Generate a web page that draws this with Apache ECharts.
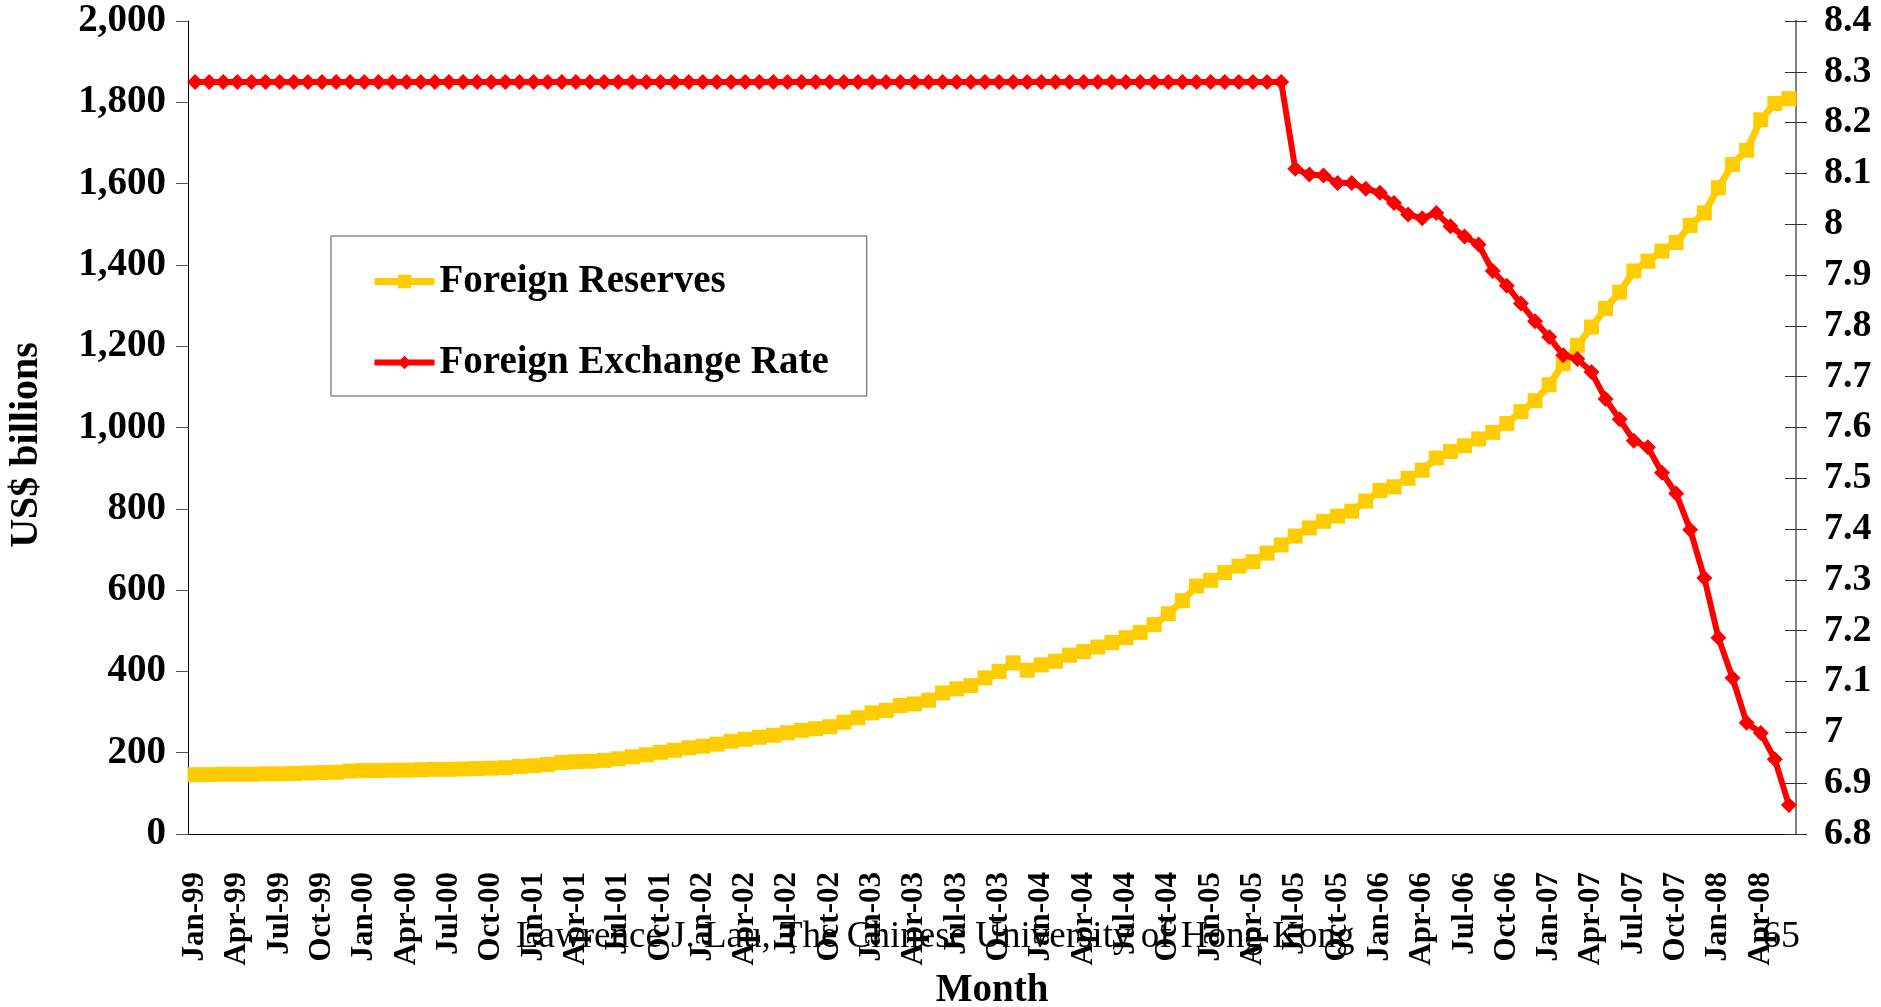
<!DOCTYPE html>
<html>
<head>
<meta charset="utf-8">
<title>Foreign Reserves and Foreign Exchange Rate</title>
<script src="https://cdn.jsdelivr.net/npm/echarts@6/dist/echarts.min.js"></script>
<style>
  html, body { margin: 0; padding: 0; background: #fff; }
  #chart { width: 1881px; height: 1007px; }
</style>
</head>
<body>
<div id="chart"></div>
<script>
// 月份（1999年1月 - 2008年6月）
const months = [
  "Jan-99","Feb-99","Mar-99","Apr-99","May-99","Jun-99","Jul-99","Aug-99","Sep-99","Oct-99","Nov-99","Dec-99",
  "Jan-00","Feb-00","Mar-00","Apr-00","May-00","Jun-00","Jul-00","Aug-00","Sep-00","Oct-00","Nov-00","Dec-00",
  "Jan-01","Feb-01","Mar-01","Apr-01","May-01","Jun-01","Jul-01","Aug-01","Sep-01","Oct-01","Nov-01","Dec-01",
  "Jan-02","Feb-02","Mar-02","Apr-02","May-02","Jun-02","Jul-02","Aug-02","Sep-02","Oct-02","Nov-02","Dec-02",
  "Jan-03","Feb-03","Mar-03","Apr-03","May-03","Jun-03","Jul-03","Aug-03","Sep-03","Oct-03","Nov-03","Dec-03",
  "Jan-04","Feb-04","Mar-04","Apr-04","May-04","Jun-04","Jul-04","Aug-04","Sep-04","Oct-04","Nov-04","Dec-04",
  "Jan-05","Feb-05","Mar-05","Apr-05","May-05","Jun-05","Jul-05","Aug-05","Sep-05","Oct-05","Nov-05","Dec-05",
  "Jan-06","Feb-06","Mar-06","Apr-06","May-06","Jun-06","Jul-06","Aug-06","Sep-06","Oct-06","Nov-06","Dec-06",
  "Jan-07","Feb-07","Mar-07","Apr-07","May-07","Jun-07","Jul-07","Aug-07","Sep-07","Oct-07","Nov-07","Dec-07",
  "Jan-08","Feb-08","Mar-08","Apr-08","May-08","Jun-08"
];

// 外汇储备 (US$ billions)
const foreignReserves = [
  146, 146, 147, 147, 147, 148, 148, 149, 150, 151, 152, 155,
  156, 156, 157, 157, 158, 159, 159, 160, 161, 162, 163, 166,
  168, 171, 176, 178, 179, 181, 185, 190, 195, 201, 206, 212,
  216, 221, 228, 233, 238, 243, 249, 255, 259, 264, 275, 286,
  298, 304, 316, 320, 329, 347, 357, 365, 384, 400, 421, 403,
  416, 425, 440, 449, 460, 471, 483, 496, 515, 542, 574, 610,
  624, 643, 659, 670, 691, 711, 733, 753, 769, 782, 794, 819,
  845, 854, 875, 895, 925, 941, 955, 972, 988, 1010, 1039, 1066,
  1105, 1157, 1202, 1247, 1293, 1333, 1385, 1409, 1434, 1455, 1497, 1528,
  1590, 1647, 1682, 1757, 1797, 1809
];

// 汇率 (RMB / US$)
const exchangeRate = [
  8.28, 8.28, 8.28, 8.28, 8.28, 8.28, 8.28, 8.28, 8.28, 8.28, 8.28, 8.28,
  8.28, 8.28, 8.28, 8.28, 8.28, 8.28, 8.28, 8.28, 8.28, 8.28, 8.28, 8.28,
  8.28, 8.28, 8.28, 8.28, 8.28, 8.28, 8.28, 8.28, 8.28, 8.28, 8.28, 8.28,
  8.28, 8.28, 8.28, 8.28, 8.28, 8.28, 8.28, 8.28, 8.28, 8.28, 8.28, 8.28,
  8.28, 8.28, 8.28, 8.28, 8.28, 8.28, 8.28, 8.28, 8.28, 8.28, 8.28, 8.28,
  8.28, 8.28, 8.28, 8.28, 8.28, 8.28, 8.28, 8.28, 8.28, 8.28, 8.28, 8.28,
  8.28, 8.28, 8.28, 8.28, 8.28, 8.28, 8.109, 8.098, 8.096, 8.081, 8.081, 8.070,
  8.062, 8.042, 8.019, 8.012, 8.022, 7.996, 7.976, 7.960, 7.908, 7.879, 7.844, 7.809,
  7.778, 7.742, 7.735, 7.709, 7.656, 7.616, 7.574, 7.561, 7.511, 7.470, 7.399, 7.304,
  7.186, 7.107, 7.019, 6.999, 6.947, 6.857
];

const seriesNames = ["Foreign Reserves", "Foreign Exchange Rate"];

const FONT = "'Liberation Serif', 'Times New Roman', serif";

const chart = echarts.init(document.getElementById("chart"));

const rightAxisBase = {
  type: "value",
  position: "right",
  min: 6.8,
  max: 8.4,
  interval: 0.1,
  splitLine: { show: false },
  axisLine: { show: true, lineStyle: { color: "#808080", width: 2 } },
};

const option = {
  animation: false,
  backgroundColor: "#fff",
  grid: { left: 188, right: 85, top: 21, bottom: 173 },
  legend: {
    data: [
      { name: seriesNames[0], lineStyle: { width: 7 } },
      { name: seriesNames[1], lineStyle: { width: 6 } },
    ],
    orient: "vertical",
    left: 331,
    top: 236,
    padding: [26, 38, 14, 40],
    itemGap: 42,
    itemWidth: 60,
    itemHeight: 17,
    borderColor: "#555",
    borderWidth: 1,
    textStyle: { fontFamily: FONT, fontWeight: "bold", fontSize: 39, color: "#000" },
  },
  xAxis: {
    type: "category",
    data: months,
    boundaryGap: true,
    axisLine: { lineStyle: { color: "#000", width: 1 } },
    axisTick: { interval: 2, length: 11, lineStyle: { color: "#555" } },
    axisLabel: {
      interval: 2,
      rotate: 90,
      margin: 38,
      fontFamily: FONT,
      fontWeight: "bold",
      fontSize: 31,
      color: "#000",
    },
  },
  yAxis: [
    {
      type: "value",
      position: "left",
      min: 0,
      max: 2000,
      interval: 200,
      splitLine: { show: false },
      axisLine: { show: true, lineStyle: { color: "#000", width: 1 } },
      axisTick: { show: true, length: 12, lineStyle: { color: "#555" } },
      axisLabel: {
        margin: 22,
        fontFamily: FONT,
        fontWeight: "bold",
        fontSize: 39,
        color: "#000",
        formatter: (v) => v.toLocaleString("en-US"),
      },
    },
    {
      ...rightAxisBase,
      axisTick: { show: true, length: 11, lineStyle: { color: "#333" } },
      axisLabel: {
        margin: 28,
        fontFamily: FONT,
        fontWeight: "bold",
        fontSize: 38,
        color: "#000",
      },
    },
    {
      // 右轴刻度穿过轴线（内侧一半）
      ...rightAxisBase,
      axisTick: { show: true, inside: true, length: 11, lineStyle: { color: "#333" } },
      axisLabel: { show: false },
    },
  ],
  series: [
    {
      name: seriesNames[0],
      type: "line",
      yAxisIndex: 0,
      data: foreignReserves,
      symbol: "rect",
      symbolSize: 15,
      showAllSymbol: true,
      itemStyle: { color: "#FFCC00" },
      lineStyle: { color: "#FFCC00", width: 7 },
      z: 2,
    },
    {
      name: seriesNames[1],
      type: "line",
      yAxisIndex: 1,
      data: exchangeRate,
      symbol: "diamond",
      symbolSize: 16,
      showAllSymbol: true,
      itemStyle: { color: "#FF0000" },
      lineStyle: { color: "#FF0000", width: 6 },
      z: 3,
    },
  ],
  graphic: [
    {
      type: "text",
      x: 27,
      y: 445,
      rotation: Math.PI / 2,
      style: {
        text: "US$ billions",
        font: "bold 40px " + FONT,
        fill: "#000",
        align: "center",
        verticalAlign: "middle",
      },
    },
    {
      type: "text",
      x: 992,
      y: 991,
      style: {
        text: "Month",
        font: "bold 39px " + FONT,
        fill: "#000",
        align: "center",
        verticalAlign: "middle",
      },
    },
    {
      type: "text",
      x: 516,
      y: 937,
      z: 100,
      style: {
        text: "Lawrence J. Lau, The Chinese University of Hong Kong",
        font: "37px " + FONT,
        fill: "#000",
        align: "left",
        verticalAlign: "middle",
      },
    },
    {
      type: "text",
      x: 1762,
      y: 937,
      z: 100,
      style: {
        text: "65",
        font: "38px " + FONT,
        fill: "#000",
        align: "left",
        verticalAlign: "middle",
      },
    },
  ],
};

chart.setOption(option);
window.addEventListener("resize", () => chart.resize());
</script>
</body>
</html>
